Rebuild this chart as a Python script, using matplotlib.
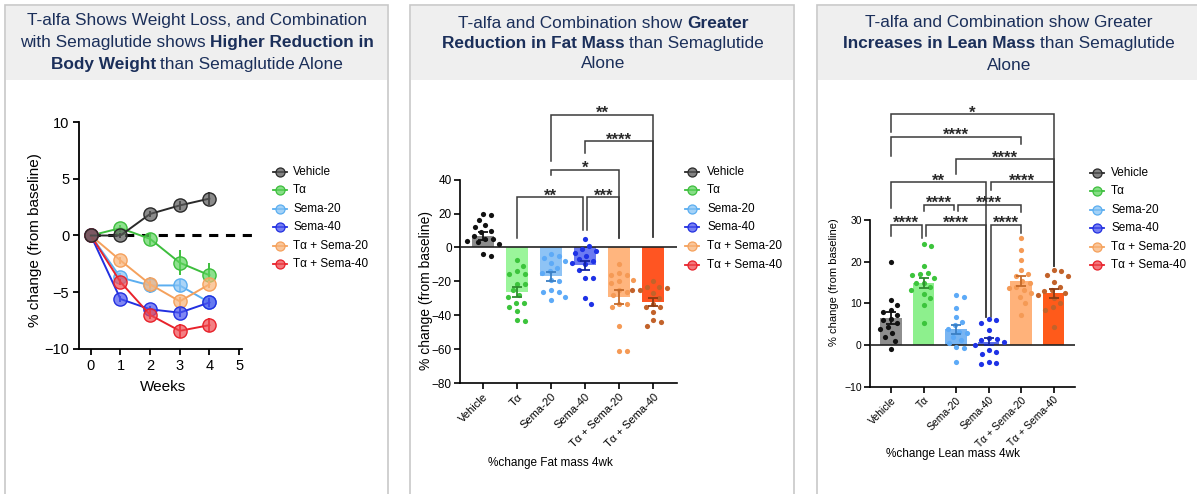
import numpy as np
import matplotlib
matplotlib.use('Agg')
import matplotlib.pyplot as plt
from matplotlib.lines import Line2D
from matplotlib.patches import Rectangle

plt.rcParams['font.family'] = ['Liberation Sans', 'DejaVu Sans']

# ---------------- data ----------------
groups = ['Vehicle', 'Tα', 'Sema-20', 'Sema-40', 'Tα + Sema-20', 'Tα + Sema-40']

weeks = [0, 1, 2, 3, 4]
bw_vehicle = [0, 0.0, 1.9, 2.65, 3.25]
bw_talfa = [0, 0.65, -0.3, -2.4, -3.5]
bw_sema20 = [0, -3.7, -4.4, -4.4, -5.9]
bw_sema40 = [0, -5.6, -6.5, -6.8, -5.9]
bw_ta_s20 = [0, -2.2, -4.3, -5.8, -4.3]
bw_ta_s40 = [0, -4.1, -7.0, -8.4, -7.9]
bw_err_vehicle = [0, 0.2, 0.3, 0.4, 0.6]
bw_err_talfa = [0, 0.3, 0.5, 1.1, 1.1]
bw_err_sema20 = [0, 0.4, 0.7, 0.6, 0.7]
bw_err_sema40 = [0, 0.3, 0.3, 0.4, 0.4]
bw_err_ta_s20 = [0, 0.3, 0.3, 0.4, 0.3]
bw_err_ta_s40 = [0, 0.3, 0.4, 0.6, 0.6]

fat_mean = [7, -26, -17, -10.5, -29, -32]
fat_sem = [2.3, 3.0, 2.8, 2.8, 4.0, 2.3]
fat_vehicle = [20, 19, 16, 13, 12, 10, 9, 7, 5, 5, 4, 3, 2, -5, -4]
fat_talfa = [-7.5, -10.8, -13.8, -15.4, -15.4, -21.3, -21.7, -25.2, -28.2, -29.2, -32.5, -32.5, -35.1, -37.5, -43.4, -43]
fat_sema20 = [-4, -5, -6, -8, -9, -12, -14, -15, -19, -20, -25, -26, -26, -29, -31]
fat_sema40 = [5, 1, -1, -2, -3, -5, -7, -8, -9, -10, -13, -18, -18, -30, -33]
fat_ta_s20 = [-10, -15, -16, -16, -19, -20, -21, -25, -26, -28, -33, -33, -35, -46, -61, -61]
fat_ta_s40 = [-20, -23, -23, -24, -25, -25, -27, -30, -33, -35, -35, -38, -43, -44, -46]

lean_mean = [6.5, 15.0, 3.8, 0.8, 15.3, 12.4]
lean_sem = [1.4, 1.2, 1.1, 0.8, 1.2, 1.0]
lean_vehicle = [20, 10.8, 9.6, 8.4, 8, 7.2, 6.2, 6, 5.2, 4.4, 3.8, 2.8, 2, 1, -1]
lean_talfa = [24.3, 23.7, 18.9, 17.3, 17.1, 16.9, 16, 15, 14.9, 14, 13.3, 12.3, 11.2, 9.6, 5.2]
lean_sema20 = [11.9, 11.6, 8.8, 6.8, 5.6, 4.8, 3.8, 3.2, 2.8, 2, 1.2, 0.4, -0.4, -0.8, -4]
lean_sema40 = [6.2, 5.9, 5.4, 3.6, 1.6, 1.4, 1.2, 0.8, 0, -1.3, -1.7, -2.2, -4.0, -4.3, -4.6]
lean_ta_s20 = [25.7, 22.9, 20.5, 18, 17, 16.5, 15.3, 14.9, 14, 13.7, 13.3, 12.4, 11.6, 10, 7.2]
lean_ta_s40 = [18, 17.7, 16.9, 16.5, 15.2, 14, 13.3, 13, 12.5, 12, 11.2, 10, 9.2, 8.4, 4.4]

# significance brackets: (label, from, to, height, left leg end, right leg end)
fat_sig = [('**', 2, 5, 78.3, 50.7, 6.0),
           ('****', 3, 5, 62.5, 55.6, 6.0),
           ('*', 2, 4, 45.8, 42.5, 5.5),
           ('**', 1, 2.94, 29.6, 5.5, 10.3),
           ('***', 3.06, 4, 29.6, 10.3, 5.5)]
lean_sig = [('*', 0, 5, 55.4, 51.2, 19.0),
            ('****', 0, 4, 50.0, 45.4, 48.2),
            ('****', 2, 5, 44.6, 41.0, 19.0),
            ('**', 0, 2.93, 39.1, 32.9, 6.8),
            ('****', 3.07, 5, 39.1, 37.3, 19.0),
            ('****', 1, 1.95, 33.7, 32.1, 32.5),
            ('****', 2.05, 4, 33.7, 32.1, 31.9),
            ('****', 0, 0.94, 28.9, 26.1, 25.7),
            ('****', 1.06, 2.93, 28.9, 26.1, 6.8),
            ('****', 3.07, 4, 28.9, 6.8, 26.9)]

# ---------------- styles ----------------
line_cols = ['#2a2a2a', '#3DBE3D', '#5BAEF0', '#2230E0', '#F5A15C', '#E8222B']
fill_cols = ['#5a5a5a', '#5fd35f', '#86c3f5', '#4a55ee', '#f8b47a', '#ef4a50']
fat_bar_cols = ['#8C8C8C', '#9BF59B', '#8EC3F5', '#6C7BF2', '#FFB57E', '#FF5522']
fat_pt_cols = ['#111111', '#3CC43C', '#5DAAF7', '#1E32E6', '#F59A55', '#C2622A']
lean_bar_cols = ['#8E8E8E', '#8DF08D', '#79B5F2', '#5A6BE8', '#FFB27A', '#FF5A1A']
err_cols = ['#111111', '#2E8B2E', '#3B7FC4', '#1424A0', '#C46A2A', '#8A3A12']
navy = '#1B2F5A'

W, H = 1197, 494
fig = plt.figure(figsize=(W / 100, H / 100), dpi=100)


def fx(x):
    return x / W


def fy(y):
    return 1 - y / H


def axes_px(x0, y0, x1, y1):
    ax = fig.add_axes([x0 / W, 1 - y1 / H, (x1 - x0) / W, (y1 - y0) / H])
    ax.set_facecolor('none')
    ax.set_zorder(5)
    return ax


# panel frames and headers
for (x0, x1) in [(5, 388), (410, 794), (817, 1210)]:
    fig.patches.append(Rectangle((fx(x0), fy(510)), (x1 - x0) / W, 505 / H,
                                 transform=fig.transFigure, fc='white',
                                 ec='#C8C8C8', lw=1.2, zorder=-10))
    fig.patches.append(Rectangle((fx(x0 + 1), fy(80)), (x1 - x0 - 2) / W, 74 / H,
                                 transform=fig.transFigure, fc='#EFEFEF',
                                 ec='none', zorder=-9))

renderer = fig.canvas.get_renderer()


def mixed_line(segments, cx, cy, size=12.4):
    sp_probe = fig.text(0, 0, 'x x', fontsize=size)
    sp_probe2 = fig.text(0, 0, 'xx', fontsize=size)
    space = (sp_probe.get_window_extent(renderer).width -
             sp_probe2.get_window_extent(renderer).width)
    sp_probe.remove()
    sp_probe2.remove()
    arts, widths = [], []
    for s, b in segments:
        t = fig.text(0, fy(cy), s, fontsize=size, color=navy, va='center', ha='left',
                     fontweight='bold' if b else 'normal')
        arts.append(t)
        widths.append(t.get_window_extent(renderer).width)
    total = sum(widths) + space * (len(segments) - 1)
    x = cx - total / 2
    for t, w in zip(arts, widths):
        t.set_x(fx(x))
        x += w + space


mixed_line([('T-alfa Shows Weight Loss, and Combination', False)], 197, 20.5)
mixed_line([('with Semaglutide shows', False), ('Higher Reduction in', True)], 197, 42)
mixed_line([('Body Weight', True), ('than Semaglutide Alone', False)], 197, 64)

mixed_line([('T-alfa and Combination show', False), ('Greater', True)], 603, 23)
mixed_line([('Reduction in Fat Mass', True), ('than Semaglutide', False)], 603, 43.5)
mixed_line([('Alone', False)], 603, 64)

mixed_line([('T-alfa and Combination show Greater', False)], 1009, 22.5)
mixed_line([('Increases in Lean Mass', True), ('than Semaglutide', False)], 1009, 43.5)
mixed_line([('Alone', False)], 1009, 65)

# ---------------- panel 1 ----------------
ax1 = axes_px(79, 122, 242, 349)
series = [bw_vehicle, bw_talfa, bw_sema20, bw_sema40, bw_ta_s20, bw_ta_s40]
errs = [bw_err_vehicle, bw_err_talfa, bw_err_sema20, bw_err_sema40, bw_err_ta_s20, bw_err_ta_s40]
ax1.plot([0, 5.6], [0, 0], color='black', lw=2.2, ls=(0, (3, 2.5)), clip_on=False, zorder=1)
order = [1, 2, 4, 3, 5, 0]
for k, i in enumerate(order):
    ax1.errorbar(weeks, series[i], yerr=errs[i], color=line_cols[i], lw=1.4,
                 elinewidth=1.4, capsize=0, marker='o', ms=9.5,
                 mfc=matplotlib.colors.to_rgba(fill_cols[i], 0.7), mec=line_cols[i],
                 mew=1.0, zorder=3 + k, clip_on=False)
ax1.set_xlim(-0.4, 5.1)
ax1.set_ylim(-10, 10)
ax1.set_xticks([0, 1, 2, 3, 4, 5])
ax1.set_yticks([-10, -5, 0, 5, 10])
for s in ['top', 'right']:
    ax1.spines[s].set_visible(False)
for s in ['left', 'bottom']:
    ax1.spines[s].set_linewidth(1.3)
ax1.tick_params(length=4, width=1.3, labelsize=10.5, pad=3)
fig.text(fx(163), fy(387), 'Weeks', fontsize=11, ha='center', va='center')
fig.text(fx(35), fy(240), '% change (from baseline)', fontsize=11, rotation=90,
         ha='center', va='center')


def legend(xm, xt, y0, dy):
    for i, n in enumerate(groups):
        y = y0 + dy * i
        fig.add_artist(Line2D([fx(xm - 7), fx(xm + 7)], [fy(y), fy(y)], color=line_cols[i],
                              lw=1.3, transform=fig.transFigure))
        fig.add_artist(Line2D([fx(xm)], [fy(y)], marker='o', ms=6.5,
                              mfc=matplotlib.colors.to_rgba(fill_cols[i], 0.75),
                              mec=line_cols[i], mew=0.9, transform=fig.transFigure))
        fig.text(fx(xt), fy(y), n, fontsize=8.5, va='center', ha='left')


legend(280, 293, 171.7, 18.5)
legend(692, 707, 171.7, 18.6)
legend(1097, 1111, 173, 18.4)


# ---------------- bar panels ----------------
def swarm_offsets(vals, sx, sy, d):
    vals = np.asarray(vals, float)
    order_ = np.argsort(-vals, kind='stable')
    placed = []
    offs = np.zeros(len(vals))
    for i in order_:
        y = vals[i] * sy
        cands = [0.0]
        for (px, py) in placed:
            dy = abs(py - y)
            if dy < d:
                dx = np.sqrt(d * d - dy * dy)
                cands += [px + dx, px - dx]
        cands = sorted(cands, key=abs)
        chosen = cands[-1]
        for c in cands:
            if all((c - px) ** 2 + (y - py) ** 2 >= d * d - 1e-6 for px, py in placed):
                chosen = c
                break
        placed.append((chosen, y))
        offs[i] = chosen / sx
    return offs


def bar_panel(box, xlim, ylim, ybounds, yticks, means, sems, pts, bar_cols, sig,
              ylabel_xy, ylab_size, xlabel, xlabel_xy, ticksize, xticksize):
    x0, y0, x1, y1 = box
    ax = axes_px(x0, y0, x1, y1)
    ax.set_xlim(*xlim)
    ax.set_ylim(*ylim)
    sx = (x1 - x0) / (xlim[1] - xlim[0])
    sy = (y1 - y0) / (ylim[1] - ylim[0])
    xs = np.arange(len(groups))
    ax.bar(xs, means, width=0.66, color=bar_cols, zorder=2)
    ax.plot(xlim, [0, 0], color='#222222', lw=1.2, zorder=3)
    for i, p in enumerate(pts):
        offs = swarm_offsets(p, sx, sy, 8.0)
        ax.scatter(xs[i] + offs, p, s=14, color=fat_pt_cols[i], linewidths=0,
                   zorder=4, clip_on=False)
    for i in xs:
        ax.errorbar(xs[i], means[i], yerr=sems[i], fmt='none', ecolor=err_cols[i],
                    elinewidth=1.3, capsize=3.5, capthick=1.3, zorder=5)
    for lab, a, b, h, la, lb in sig:
        ax.plot([a, a, b, b], [la, h, h, lb], color='#3a3a3a', lw=1.1,
                clip_on=False, zorder=3, solid_joinstyle='miter')
        ax.annotate(lab, ((a + b) / 2, h), xytext=(0, -2.5), textcoords='offset points',
                    ha='center', va='baseline', fontsize=12, fontweight='bold',
                    color='#2a2a2a', annotation_clip=False)
    for s in ['top', 'right']:
        ax.spines[s].set_visible(False)
    ax.spines['left'].set_bounds(*ybounds)
    for s in ['left', 'bottom']:
        ax.spines[s].set_linewidth(1.2)
    ax.set_yticks(yticks)
    ax.set_xticks(xs)
    ax.set_xticklabels(groups, rotation=45, ha='right', rotation_mode='anchor',
                       fontsize=xticksize)
    ax.tick_params(axis='y', length=4, width=1.2, labelsize=ticksize, pad=2)
    ax.tick_params(axis='x', length=4, width=1.2, pad=2)
    fig.text(fx(ylabel_xy[0]), fy(ylabel_xy[1]), '% change (from baseline)',
             fontsize=ylab_size, rotation=90, ha='center', va='center')
    fig.text(fx(xlabel_xy[0]), fy(xlabel_xy[1]), xlabel, fontsize=8.5,
             ha='center', va='center')
    return ax


bar_panel((460, 103.2, 677, 383.3), (-0.68, 5.7), (-80, 85), (-80, 40),
          [-80, -60, -40, -20, 0, 20, 40], fat_mean, fat_sem,
          [fat_vehicle, fat_talfa, fat_sema20, fat_sema40, fat_ta_s20, fat_ta_s40],
          fat_bar_cols, fat_sig, (426, 291), 10, '%change Fat mass 4wk', (550, 463),
          8.5, 8)

bar_panel((870, 95, 1075, 386.7), (-0.65, 5.66), (-10, 60), (-10, 30),
          [-10, 0, 10, 20, 30], lean_mean, lean_sem,
          [lean_vehicle, lean_talfa, lean_sema20, lean_sema40, lean_ta_s20, lean_ta_s40],
          lean_bar_cols, lean_sig, (834, 282), 8, '%change Lean mass 4wk', (953, 454),
          7.5, 7.5)

fig.savefig('out.png', dpi=100)
